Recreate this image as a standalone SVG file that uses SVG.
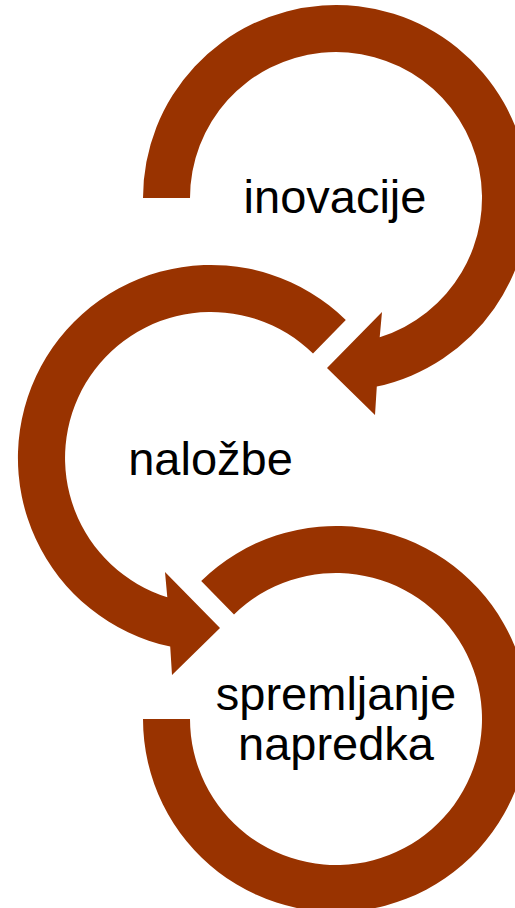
<svg xmlns="http://www.w3.org/2000/svg" width="515" height="908" viewBox="0 0 515 908">
<style>
.arc{fill:#993300;stroke:none}
.lbl{font-family:"Liberation Sans",Arial,sans-serif;font-size:47px;fill:#000;text-anchor:middle}
</style>
<rect width="515" height="908" fill="#fff"/>
<g id="connectors">
<path class="arc" d="M143,198 A193,193 0 1 1 376.8,386.6 L375,415 L327,368 L382,312 L379.7,337.3 A146,146 0 1 0 190,198 Z"/>
<path class="arc" d="M345.8,319.9 A193,193 0 1 0 170.2,646.6 L172,675 L220,628 L165,572 L167.3,597.3 A146,146 0 1 1 313,353.5 Z"/>
<path class="arc" d="M201.2,580.9 A193,193 0 1 1 143,719 L190,719 A146,146 0 1 0 234,614.5 Z"/>
</g>
<g id="node1"><text class="lbl" x="335" y="213">inovacije</text></g>
<g id="node2"><text class="lbl" x="210.5" y="475">naložbe</text></g>
<g id="node3"><text class="lbl" x="336" y="710">spremljanje</text><text class="lbl" x="336" y="760">napredka</text></g>
</svg>
